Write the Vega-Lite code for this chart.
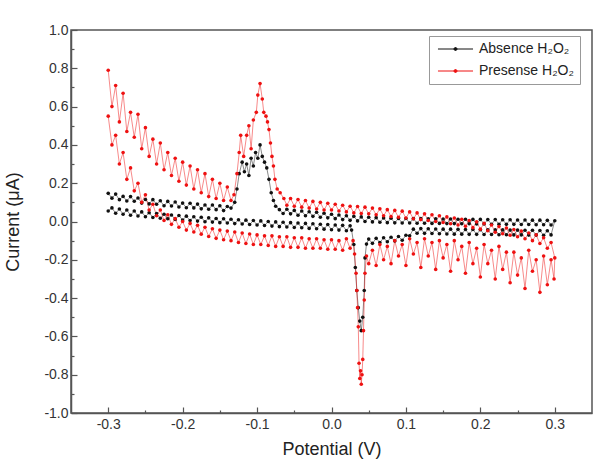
{
"$schema": "https://vega.github.io/schema/vega-lite/v6.json",
"width": 521, "height": 383,
"autosize": {"type": "none"},
"padding": {"left": 71, "top": 30, "right": 7, "bottom": 49},
"background": "white",
"config": {
  "font": "Liberation Sans",
  "view": {"stroke": "#555", "strokeWidth": 1.5},
  "axis": {"domainColor": "#555", "domainWidth": 1.5, "tickColor": "#555", "tickWidth": 1.2, "labelFontSize": 14, "labelColor": "#333", "titleFontSize": 18, "titleFontWeight": "normal", "titleColor": "#222", "grid": false, "labelOverlap": false, "labelFlush": false}
},
"data": {"values": [
{"s":"a","x":-0.300,"y":0.147},{"s":"a","x":-0.295,"y":0.122},{"s":"a","x":-0.290,"y":0.143},{"s":"a","x":-0.285,"y":0.114},{"s":"a","x":-0.280,"y":0.131},{"s":"a","x":-0.275,"y":0.107},{"s":"a","x":-0.270,"y":0.130},{"s":"a","x":-0.265,"y":0.106},{"s":"a","x":-0.260,"y":0.123},{"s":"a","x":-0.255,"y":0.096},{"s":"a","x":-0.250,"y":0.115},{"s":"a","x":-0.245,"y":0.092},{"s":"a","x":-0.240,"y":0.114},{"s":"a","x":-0.235,"y":0.090},{"s":"a","x":-0.230,"y":0.108},{"s":"a","x":-0.225,"y":0.082},{"s":"a","x":-0.220,"y":0.105},{"s":"a","x":-0.215,"y":0.081},{"s":"a","x":-0.210,"y":0.102},{"s":"a","x":-0.205,"y":0.076},{"s":"a","x":-0.200,"y":0.096},{"s":"a","x":-0.195,"y":0.072},{"s":"a","x":-0.190,"y":0.095},{"s":"a","x":-0.185,"y":0.071},{"s":"a","x":-0.180,"y":0.091},{"s":"a","x":-0.175,"y":0.066},{"s":"a","x":-0.170,"y":0.086},{"s":"a","x":-0.165,"y":0.064},{"s":"a","x":-0.160,"y":0.086},{"s":"a","x":-0.155,"y":0.062},{"s":"a","x":-0.150,"y":0.082},{"s":"a","x":-0.145,"y":0.057},{"s":"a","x":-0.140,"y":0.078},
{"s":"a","x":-0.135,"y":0.070},{"s":"a","x":-0.130,"y":0.100},{"s":"a","x":-0.127,"y":0.170},{"s":"a","x":-0.124,"y":0.250},{"s":"a","x":-0.120,"y":0.310},{"s":"a","x":-0.117,"y":0.260},{"s":"a","x":-0.114,"y":0.300},{"s":"a","x":-0.111,"y":0.240},{"s":"a","x":-0.108,"y":0.330},{"s":"a","x":-0.105,"y":0.290},{"s":"a","x":-0.102,"y":0.360},{"s":"a","x":-0.099,"y":0.330},{"s":"a","x":-0.096,"y":0.400},{"s":"a","x":-0.093,"y":0.340},{"s":"a","x":-0.090,"y":0.310},{"s":"a","x":-0.087,"y":0.280},{"s":"a","x":-0.084,"y":0.220},{"s":"a","x":-0.081,"y":0.150},{"s":"a","x":-0.078,"y":0.110},{"s":"a","x":-0.075,"y":0.080},
{"s":"a","x":-0.070,"y":0.062},{"s":"a","x":-0.065,"y":0.042},{"s":"a","x":-0.060,"y":0.064},{"s":"a","x":-0.055,"y":0.040},{"s":"a","x":-0.050,"y":0.058},{"s":"a","x":-0.045,"y":0.033},{"s":"a","x":-0.040,"y":0.055},{"s":"a","x":-0.035,"y":0.030},{"s":"a","x":-0.030,"y":0.051},{"s":"a","x":-0.025,"y":0.027},{"s":"a","x":-0.020,"y":0.048},{"s":"a","x":-0.015,"y":0.022},{"s":"a","x":-0.010,"y":0.043},{"s":"a","x":-0.005,"y":0.019},{"s":"a","x":0.000,"y":0.038},{"s":"a","x":0.005,"y":0.015},{"s":"a","x":0.010,"y":0.034},{"s":"a","x":0.015,"y":0.010},{"s":"a","x":0.020,"y":0.030},{"s":"a","x":0.025,"y":0.006},{"s":"a","x":0.030,"y":0.027},{"s":"a","x":0.035,"y":0.003},{"s":"a","x":0.040,"y":0.024},{"s":"a","x":0.045,"y":0.000},{"s":"a","x":0.050,"y":0.022},{"s":"a","x":0.055,"y":-0.002},{"s":"a","x":0.060,"y":0.020},{"s":"a","x":0.065,"y":-0.004},{"s":"a","x":0.070,"y":0.018},{"s":"a","x":0.075,"y":-0.006},{"s":"a","x":0.080,"y":0.017},{"s":"a","x":0.085,"y":-0.007},{"s":"a","x":0.090,"y":0.016},{"s":"a","x":0.095,"y":-0.008},{"s":"a","x":0.100,"y":0.016},{"s":"a","x":0.105,"y":-0.008},{"s":"a","x":0.110,"y":0.015},{"s":"a","x":0.115,"y":-0.009},{"s":"a","x":0.120,"y":0.015},{"s":"a","x":0.125,"y":-0.009},{"s":"a","x":0.130,"y":0.014},{"s":"a","x":0.135,"y":-0.010},{"s":"a","x":0.140,"y":0.014},{"s":"a","x":0.145,"y":-0.010},{"s":"a","x":0.150,"y":0.013},{"s":"a","x":0.155,"y":-0.011},{"s":"a","x":0.160,"y":0.013},{"s":"a","x":0.165,"y":-0.011},{"s":"a","x":0.170,"y":0.012},{"s":"a","x":0.175,"y":-0.012},{"s":"a","x":0.180,"y":0.012},{"s":"a","x":0.185,"y":-0.012},{"s":"a","x":0.190,"y":0.011},{"s":"a","x":0.195,"y":-0.013},{"s":"a","x":0.200,"y":0.011},{"s":"a","x":0.205,"y":-0.013},{"s":"a","x":0.210,"y":0.010},{"s":"a","x":0.215,"y":-0.014},{"s":"a","x":0.220,"y":0.010},{"s":"a","x":0.225,"y":-0.014},{"s":"a","x":0.230,"y":0.009},{"s":"a","x":0.235,"y":-0.015},{"s":"a","x":0.240,"y":0.009},{"s":"a","x":0.245,"y":-0.015},{"s":"a","x":0.250,"y":0.008},{"s":"a","x":0.255,"y":-0.016},{"s":"a","x":0.260,"y":0.008},{"s":"a","x":0.265,"y":-0.016},{"s":"a","x":0.270,"y":0.007},{"s":"a","x":0.275,"y":-0.017},{"s":"a","x":0.280,"y":0.007},{"s":"a","x":0.285,"y":-0.017},{"s":"a","x":0.290,"y":0.006},{"s":"a","x":0.295,"y":-0.018},{"s":"a","x":0.300,"y":0.004},
{"s":"a","x":0.295,"y":-0.070},{"s":"a","x":0.290,"y":-0.048},{"s":"a","x":0.285,"y":-0.072},{"s":"a","x":0.280,"y":-0.047},{"s":"a","x":0.275,"y":-0.071},{"s":"a","x":0.270,"y":-0.046},{"s":"a","x":0.265,"y":-0.071},{"s":"a","x":0.260,"y":-0.046},{"s":"a","x":0.255,"y":-0.070},{"s":"a","x":0.250,"y":-0.045},{"s":"a","x":0.245,"y":-0.070},{"s":"a","x":0.240,"y":-0.045},{"s":"a","x":0.235,"y":-0.069},{"s":"a","x":0.230,"y":-0.044},{"s":"a","x":0.225,"y":-0.069},{"s":"a","x":0.220,"y":-0.044},{"s":"a","x":0.215,"y":-0.068},{"s":"a","x":0.210,"y":-0.043},{"s":"a","x":0.205,"y":-0.068},{"s":"a","x":0.200,"y":-0.043},{"s":"a","x":0.195,"y":-0.067},{"s":"a","x":0.190,"y":-0.042},{"s":"a","x":0.185,"y":-0.067},{"s":"a","x":0.180,"y":-0.042},{"s":"a","x":0.175,"y":-0.066},{"s":"a","x":0.170,"y":-0.041},{"s":"a","x":0.165,"y":-0.066},{"s":"a","x":0.160,"y":-0.040},{"s":"a","x":0.155,"y":-0.065},{"s":"a","x":0.150,"y":-0.040},{"s":"a","x":0.145,"y":-0.064},{"s":"a","x":0.140,"y":-0.039},{"s":"a","x":0.135,"y":-0.063},{"s":"a","x":0.130,"y":-0.038},{"s":"a","x":0.125,"y":-0.062},{"s":"a","x":0.120,"y":-0.037},{"s":"a","x":0.115,"y":-0.061},{"s":"a","x":0.110,"y":-0.040},{"s":"a","x":0.105,"y":-0.075},{"s":"a","x":0.100,"y":-0.072},{"s":"a","x":0.095,"y":-0.098},{"s":"a","x":0.090,"y":-0.078},{"s":"a","x":0.085,"y":-0.102},{"s":"a","x":0.080,"y":-0.082},{"s":"a","x":0.075,"y":-0.106},{"s":"a","x":0.070,"y":-0.085},{"s":"a","x":0.065,"y":-0.110},{"s":"a","x":0.060,"y":-0.088},{"s":"a","x":0.055,"y":-0.114},{"s":"a","x":0.050,"y":-0.092},{"s":"a","x":0.047,"y":-0.118},{"s":"a","x":0.045,"y":-0.190},{"s":"a","x":0.044,"y":-0.360},{"s":"a","x":0.042,"y":-0.500},{"s":"a","x":0.040,"y":-0.570},{"s":"a","x":0.038,"y":-0.520},{"s":"a","x":0.036,"y":-0.450},{"s":"a","x":0.034,"y":-0.360},{"s":"a","x":0.032,"y":-0.240},{"s":"a","x":0.030,"y":-0.120},{"s":"a","x":0.027,"y":-0.045},{"s":"a","x":0.025,"y":-0.022},{"s":"a","x":0.020,"y":-0.048},{"s":"a","x":0.015,"y":-0.020},{"s":"a","x":0.010,"y":-0.045},{"s":"a","x":0.005,"y":-0.018},{"s":"a","x":0.000,"y":-0.043},{"s":"a","x":-0.005,"y":-0.016},{"s":"a","x":-0.010,"y":-0.040},{"s":"a","x":-0.015,"y":-0.014},{"s":"a","x":-0.020,"y":-0.038},{"s":"a","x":-0.025,"y":-0.012},{"s":"a","x":-0.030,"y":-0.036},{"s":"a","x":-0.035,"y":-0.010},{"s":"a","x":-0.040,"y":-0.033},{"s":"a","x":-0.045,"y":-0.008},{"s":"a","x":-0.050,"y":-0.031},{"s":"a","x":-0.055,"y":-0.006},{"s":"a","x":-0.060,"y":-0.029},{"s":"a","x":-0.065,"y":-0.004},{"s":"a","x":-0.070,"y":-0.027},{"s":"a","x":-0.075,"y":-0.002},{"s":"a","x":-0.080,"y":-0.024},{"s":"a","x":-0.085,"y":0.000},{"s":"a","x":-0.090,"y":-0.021},{"s":"a","x":-0.095,"y":0.003},{"s":"a","x":-0.100,"y":-0.018},{"s":"a","x":-0.105,"y":0.005},{"s":"a","x":-0.110,"y":-0.016},{"s":"a","x":-0.115,"y":0.007},{"s":"a","x":-0.120,"y":-0.013},{"s":"a","x":-0.125,"y":0.009},{"s":"a","x":-0.130,"y":-0.011},{"s":"a","x":-0.135,"y":0.012},{"s":"a","x":-0.140,"y":-0.008},{"s":"a","x":-0.145,"y":0.014},{"s":"a","x":-0.150,"y":-0.006},{"s":"a","x":-0.155,"y":0.016},{"s":"a","x":-0.160,"y":-0.003},{"s":"a","x":-0.165,"y":0.019},{"s":"a","x":-0.170,"y":-0.001},{"s":"a","x":-0.175,"y":0.022},{"s":"a","x":-0.180,"y":0.002},{"s":"a","x":-0.185,"y":0.025},{"s":"a","x":-0.190,"y":0.005},{"s":"a","x":-0.195,"y":0.028},{"s":"a","x":-0.200,"y":0.008},{"s":"a","x":-0.205,"y":0.031},{"s":"a","x":-0.210,"y":0.011},{"s":"a","x":-0.215,"y":0.034},{"s":"a","x":-0.220,"y":0.014},{"s":"a","x":-0.225,"y":0.038},{"s":"a","x":-0.230,"y":0.017},{"s":"a","x":-0.235,"y":0.042},{"s":"a","x":-0.240,"y":0.021},{"s":"a","x":-0.245,"y":0.046},{"s":"a","x":-0.250,"y":0.025},{"s":"a","x":-0.255,"y":0.050},{"s":"a","x":-0.260,"y":0.029},{"s":"a","x":-0.265,"y":0.055},{"s":"a","x":-0.270,"y":0.033},{"s":"a","x":-0.275,"y":0.060},{"s":"a","x":-0.280,"y":0.038},{"s":"a","x":-0.285,"y":0.065},{"s":"a","x":-0.290,"y":0.043},{"s":"a","x":-0.295,"y":0.071},{"s":"a","x":-0.300,"y":0.055},
{"s":"p","x":-0.300,"y":0.79},{"s":"p","x":-0.295,"y":0.60},{"s":"p","x":-0.290,"y":0.71},{"s":"p","x":-0.285,"y":0.52},{"s":"p","x":-0.280,"y":0.67},{"s":"p","x":-0.275,"y":0.47},{"s":"p","x":-0.270,"y":0.57},{"s":"p","x":-0.265,"y":0.44},{"s":"p","x":-0.260,"y":0.56},{"s":"p","x":-0.255,"y":0.38},{"s":"p","x":-0.250,"y":0.49},{"s":"p","x":-0.245,"y":0.34},{"s":"p","x":-0.240,"y":0.43},{"s":"p","x":-0.235,"y":0.30},{"s":"p","x":-0.230,"y":0.41},{"s":"p","x":-0.225,"y":0.27},{"s":"p","x":-0.220,"y":0.36},{"s":"p","x":-0.215,"y":0.24},{"s":"p","x":-0.210,"y":0.33},{"s":"p","x":-0.205,"y":0.21},{"s":"p","x":-0.200,"y":0.31},{"s":"p","x":-0.195,"y":0.19},{"s":"p","x":-0.190,"y":0.29},{"s":"p","x":-0.185,"y":0.17},{"s":"p","x":-0.180,"y":0.27},{"s":"p","x":-0.175,"y":0.15},{"s":"p","x":-0.170,"y":0.25},{"s":"p","x":-0.165,"y":0.13},{"s":"p","x":-0.160,"y":0.22},{"s":"p","x":-0.155,"y":0.12},{"s":"p","x":-0.150,"y":0.20},{"s":"p","x":-0.145,"y":0.11},{"s":"p","x":-0.140,"y":0.18},{"s":"p","x":-0.135,"y":0.11},
{"s":"p","x":-0.131,"y":0.14},{"s":"p","x":-0.127,"y":0.25},{"s":"p","x":-0.124,"y":0.36},{"s":"p","x":-0.122,"y":0.45},{"s":"p","x":-0.118,"y":0.34},{"s":"p","x":-0.114,"y":0.45},{"s":"p","x":-0.111,"y":0.50},{"s":"p","x":-0.108,"y":0.38},{"s":"p","x":-0.105,"y":0.53},{"s":"p","x":-0.101,"y":0.57},{"s":"p","x":-0.099,"y":0.66},{"s":"p","x":-0.096,"y":0.72},{"s":"p","x":-0.093,"y":0.64},{"s":"p","x":-0.091,"y":0.57},{"s":"p","x":-0.088,"y":0.55},{"s":"p","x":-0.086,"y":0.52},{"s":"p","x":-0.084,"y":0.48},{"s":"p","x":-0.082,"y":0.41},{"s":"p","x":-0.080,"y":0.34},{"s":"p","x":-0.078,"y":0.29},{"s":"p","x":-0.076,"y":0.22},{"s":"p","x":-0.073,"y":0.17},{"s":"p","x":-0.069,"y":0.15},{"s":"p","x":-0.064,"y":0.12},
{"s":"p","x":-0.060,"y":0.085},{"s":"p","x":-0.055,"y":0.12},{"s":"p","x":-0.050,"y":0.08},{"s":"p","x":-0.045,"y":0.115},{"s":"p","x":-0.040,"y":0.075},{"s":"p","x":-0.035,"y":0.11},{"s":"p","x":-0.030,"y":0.07},{"s":"p","x":-0.025,"y":0.105},{"s":"p","x":-0.020,"y":0.065},{"s":"p","x":-0.015,"y":0.10},{"s":"p","x":-0.010,"y":0.06},{"s":"p","x":-0.005,"y":0.095},{"s":"p","x":0.000,"y":0.06},{"s":"p","x":0.005,"y":0.09},{"s":"p","x":0.010,"y":0.055},{"s":"p","x":0.015,"y":0.085},{"s":"p","x":0.020,"y":0.05},{"s":"p","x":0.025,"y":0.08},{"s":"p","x":0.030,"y":0.045},{"s":"p","x":0.035,"y":0.078},{"s":"p","x":0.040,"y":0.042},{"s":"p","x":0.045,"y":0.075},{"s":"p","x":0.050,"y":0.04},{"s":"p","x":0.055,"y":0.07},{"s":"p","x":0.060,"y":0.035},{"s":"p","x":0.065,"y":0.066},{"s":"p","x":0.070,"y":0.03},{"s":"p","x":0.075,"y":0.062},{"s":"p","x":0.080,"y":0.026},{"s":"p","x":0.085,"y":0.058},{"s":"p","x":0.090,"y":0.022},{"s":"p","x":0.095,"y":0.054},{"s":"p","x":0.100,"y":0.018},{"s":"p","x":0.105,"y":0.05},{"s":"p","x":0.110,"y":0.014},{"s":"p","x":0.115,"y":0.045},{"s":"p","x":0.120,"y":0.01},{"s":"p","x":0.125,"y":0.04},{"s":"p","x":0.130,"y":0.005},{"s":"p","x":0.135,"y":0.035},{"s":"p","x":0.140,"y":0.0},{"s":"p","x":0.145,"y":0.03},{"s":"p","x":0.150,"y":-0.005},{"s":"p","x":0.155,"y":0.024},{"s":"p","x":0.160,"y":-0.012},{"s":"p","x":0.165,"y":0.018},{"s":"p","x":0.170,"y":-0.018},{"s":"p","x":0.175,"y":0.012},{"s":"p","x":0.180,"y":-0.025},{"s":"p","x":0.185,"y":0.005},{"s":"p","x":0.190,"y":-0.032},{"s":"p","x":0.195,"y":-0.002},{"s":"p","x":0.200,"y":-0.04},{"s":"p","x":0.205,"y":-0.01},{"s":"p","x":0.210,"y":-0.048},{"s":"p","x":0.215,"y":-0.018},{"s":"p","x":0.220,"y":-0.056},{"s":"p","x":0.225,"y":-0.026},{"s":"p","x":0.230,"y":-0.064},{"s":"p","x":0.235,"y":-0.034},{"s":"p","x":0.240,"y":-0.072},{"s":"p","x":0.245,"y":-0.042},{"s":"p","x":0.250,"y":-0.08},{"s":"p","x":0.255,"y":-0.05},{"s":"p","x":0.260,"y":-0.09},{"s":"p","x":0.265,"y":-0.06},{"s":"p","x":0.270,"y":-0.10},{"s":"p","x":0.275,"y":-0.07},{"s":"p","x":0.280,"y":-0.115},{"s":"p","x":0.285,"y":-0.085},{"s":"p","x":0.290,"y":-0.14},{"s":"p","x":0.295,"y":-0.11},{"s":"p","x":0.300,"y":-0.19},
{"s":"p","x":0.299,"y":-0.30},{"s":"p","x":0.295,"y":-0.20},{"s":"p","x":0.290,"y":-0.33},{"s":"p","x":0.285,"y":-0.18},{"s":"p","x":0.280,"y":-0.37},{"s":"p","x":0.275,"y":-0.20},{"s":"p","x":0.270,"y":-0.26},{"s":"p","x":0.265,"y":-0.15},{"s":"p","x":0.260,"y":-0.35},{"s":"p","x":0.255,"y":-0.19},{"s":"p","x":0.250,"y":-0.28},{"s":"p","x":0.245,"y":-0.16},{"s":"p","x":0.240,"y":-0.32},{"s":"p","x":0.235,"y":-0.16},{"s":"p","x":0.230,"y":-0.25},{"s":"p","x":0.225,"y":-0.13},{"s":"p","x":0.220,"y":-0.30},{"s":"p","x":0.215,"y":-0.15},{"s":"p","x":0.210,"y":-0.22},{"s":"p","x":0.205,"y":-0.12},{"s":"p","x":0.200,"y":-0.29},{"s":"p","x":0.195,"y":-0.14},{"s":"p","x":0.190,"y":-0.22},{"s":"p","x":0.185,"y":-0.11},{"s":"p","x":0.180,"y":-0.27},{"s":"p","x":0.175,"y":-0.13},{"s":"p","x":0.170,"y":-0.20},{"s":"p","x":0.165,"y":-0.10},{"s":"p","x":0.160,"y":-0.26},{"s":"p","x":0.155,"y":-0.12},{"s":"p","x":0.150,"y":-0.19},{"s":"p","x":0.145,"y":-0.10},{"s":"p","x":0.140,"y":-0.25},{"s":"p","x":0.135,"y":-0.11},{"s":"p","x":0.130,"y":-0.18},{"s":"p","x":0.125,"y":-0.09},{"s":"p","x":0.120,"y":-0.24},{"s":"p","x":0.115,"y":-0.11},{"s":"p","x":0.110,"y":-0.17},{"s":"p","x":0.105,"y":-0.09},{"s":"p","x":0.100,"y":-0.23},{"s":"p","x":0.095,"y":-0.12},{"s":"p","x":0.090,"y":-0.18},{"s":"p","x":0.085,"y":-0.10},{"s":"p","x":0.080,"y":-0.22},{"s":"p","x":0.075,"y":-0.13},{"s":"p","x":0.070,"y":-0.20},{"s":"p","x":0.065,"y":-0.12},{"s":"p","x":0.060,"y":-0.23},{"s":"p","x":0.055,"y":-0.15},{"s":"p","x":0.050,"y":-0.22},{"s":"p","x":0.047,"y":-0.18},{"s":"p","x":0.045,"y":-0.27},{"s":"p","x":0.044,"y":-0.41},{"s":"p","x":0.043,"y":-0.57},{"s":"p","x":0.042,"y":-0.72},{"s":"p","x":0.041,"y":-0.80},{"s":"p","x":0.040,"y":-0.85},{"s":"p","x":0.039,"y":-0.78},{"s":"p","x":0.038,"y":-0.82},{"s":"p","x":0.037,"y":-0.74},{"s":"p","x":0.036,"y":-0.55},{"s":"p","x":0.035,"y":-0.45},{"s":"p","x":0.034,"y":-0.36},{"s":"p","x":0.033,"y":-0.27},{"s":"p","x":0.031,"y":-0.17},{"s":"p","x":0.029,"y":-0.10},{"s":"p","x":0.025,"y":-0.14},{"s":"p","x":0.020,"y":-0.09},{"s":"p","x":0.015,"y":-0.15},{"s":"p","x":0.010,"y":-0.10},{"s":"p","x":0.005,"y":-0.145},{"s":"p","x":0.000,"y":-0.095},{"s":"p","x":-0.005,"y":-0.145},{"s":"p","x":-0.010,"y":-0.095},{"s":"p","x":-0.015,"y":-0.14},{"s":"p","x":-0.020,"y":-0.09},{"s":"p","x":-0.025,"y":-0.14},{"s":"p","x":-0.030,"y":-0.09},{"s":"p","x":-0.035,"y":-0.14},{"s":"p","x":-0.040,"y":-0.085},{"s":"p","x":-0.045,"y":-0.135},{"s":"p","x":-0.050,"y":-0.085},{"s":"p","x":-0.055,"y":-0.135},{"s":"p","x":-0.060,"y":-0.08},{"s":"p","x":-0.065,"y":-0.13},{"s":"p","x":-0.070,"y":-0.08},{"s":"p","x":-0.075,"y":-0.13},{"s":"p","x":-0.080,"y":-0.075},{"s":"p","x":-0.085,"y":-0.125},{"s":"p","x":-0.090,"y":-0.075},{"s":"p","x":-0.095,"y":-0.12},{"s":"p","x":-0.100,"y":-0.07},{"s":"p","x":-0.105,"y":-0.12},{"s":"p","x":-0.110,"y":-0.065},{"s":"p","x":-0.115,"y":-0.115},{"s":"p","x":-0.120,"y":-0.06},{"s":"p","x":-0.125,"y":-0.11},{"s":"p","x":-0.130,"y":-0.055},{"s":"p","x":-0.135,"y":-0.10},{"s":"p","x":-0.140,"y":-0.05},{"s":"p","x":-0.145,"y":-0.095},{"s":"p","x":-0.150,"y":-0.045},{"s":"p","x":-0.155,"y":-0.088},{"s":"p","x":-0.160,"y":-0.038},{"s":"p","x":-0.165,"y":-0.078},{"s":"p","x":-0.170,"y":-0.03},{"s":"p","x":-0.175,"y":-0.066},{"s":"p","x":-0.180,"y":-0.02},{"s":"p","x":-0.185,"y":-0.055},{"s":"p","x":-0.190,"y":-0.01},{"s":"p","x":-0.195,"y":-0.045},{"s":"p","x":-0.200,"y":0.0},{"s":"p","x":-0.205,"y":-0.03},{"s":"p","x":-0.210,"y":0.015},{"s":"p","x":-0.215,"y":-0.015},{"s":"p","x":-0.220,"y":0.035},{"s":"p","x":-0.225,"y":0.005},{"s":"p","x":-0.230,"y":0.06},{"s":"p","x":-0.235,"y":0.03},{"s":"p","x":-0.240,"y":0.09},{"s":"p","x":-0.245,"y":0.06},{"s":"p","x":-0.250,"y":0.14},{"s":"p","x":-0.255,"y":0.10},{"s":"p","x":-0.260,"y":0.20},{"s":"p","x":-0.265,"y":0.16},{"s":"p","x":-0.270,"y":0.28},{"s":"p","x":-0.275,"y":0.22},{"s":"p","x":-0.280,"y":0.36},{"s":"p","x":-0.285,"y":0.30},{"s":"p","x":-0.290,"y":0.45},{"s":"p","x":-0.295,"y":0.40},{"s":"p","x":-0.300,"y":0.55}
]},
"transform": [{"window": [{"op": "row_number", "as": "i"}]}],
"encoding": {
  "x": {"field": "x", "type": "quantitative", "scale": {"domain": [-0.35, 0.35], "nice": false, "zero": false},
    "axis": {"title": "Potential (V)", "values": [-0.3,-0.25,-0.2,-0.15,-0.1,-0.05,0,0.05,0.1,0.15,0.2,0.25,0.3], "format": ".1f",
      "labelExpr": "round(datum.value*20)%2 != 0 ? '' : replace(datum.label, '\u2212', '-')",
      "tickSize": {"condition": {"test": "round(datum.value*20)%2 != 0", "value": -3}, "value": -6},
      "labelPadding": 10, "titlePadding": 6}},
  "y": {"field": "y", "type": "quantitative", "scale": {"domain": [-1, 1], "nice": false, "zero": false},
    "axis": {"title": "Current (μA)", "values": [-1,-0.9,-0.8,-0.7,-0.6,-0.5,-0.4,-0.3,-0.2,-0.1,0,0.1,0.2,0.3,0.4,0.5,0.6,0.7,0.8,0.9,1], "format": ".1f",
      "labelExpr": "round(datum.value*10)%2 != 0 ? '' : replace(datum.label, '\u2212', '-')",
      "tickSize": {"condition": {"test": "round(datum.value*10)%2 != 0", "value": -3}, "value": -6},
      "labelPadding": 9, "titlePadding": 21}},
  "color": {"field": "s", "type": "nominal", "scale": {"domain": ["a", "p"], "range": ["#111111", "#ee1111"]},
    "legend": {"orient": "none", "legendX": 358, "legendY": 6, "title": null,
      "symbolType": "M-0.67,0H5.17M2.0,0A0.25,0.25 0 1,0 2.5,0A0.25,0.25 0 1,0 2.0,0",
      "symbolSize": 144, "symbolStrokeWidth": 1, "symbolOpacity": 1, "labelOffset": 30,
      "labelFontSize": 14, "labelColor": "#222", "strokeColor": "#999", "fillColor": "#ffffff",
      "padding": 6, "rowPadding": 8,
      "labelExpr": "datum.label == 'a' ? 'Absence H₂O₂' : 'Presense H₂O₂'"}},
  "order": {"field": "i", "type": "quantitative"}
},
"layer": [
  {"mark": {"type": "line", "strokeWidth": 0.9, "opacity": 0.55}},
  {"mark": {"type": "point", "filled": true, "size": 13, "opacity": 1},
   "encoding": {"color": {"field": "s", "type": "nominal", "legend": null}}}
]
}
